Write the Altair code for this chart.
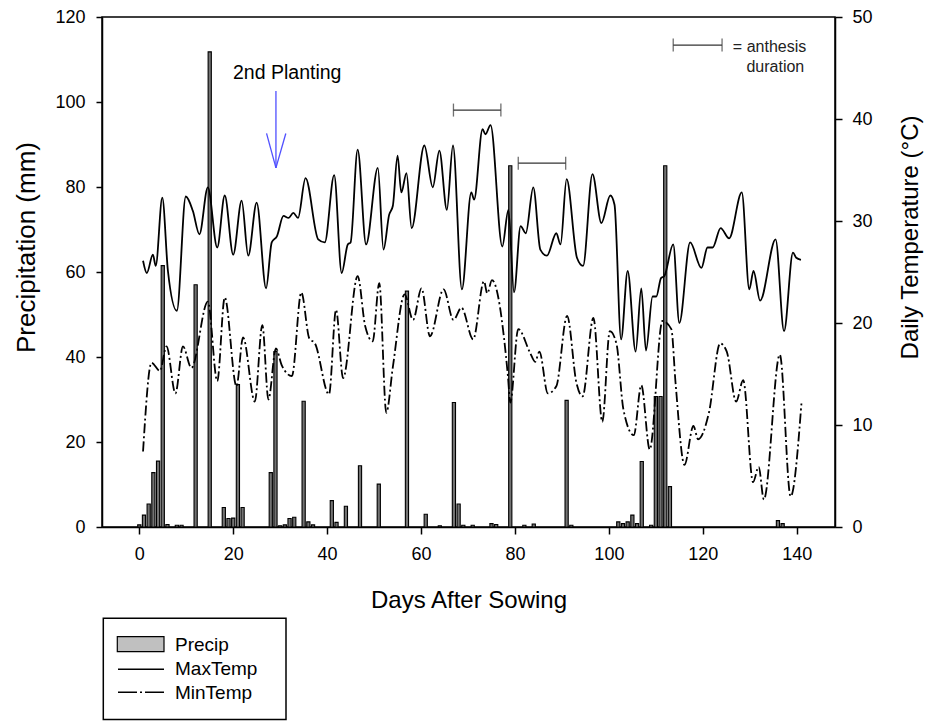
import altair as alt
import pandas as pd

# ---------------- data ----------------
precip_day = [0, 1, 2, 3, 4, 5, 6, 8, 9, 12,
              15, 18, 19, 20, 21, 22, 28, 29, 30, 31,
              32, 33, 35, 36, 37, 41, 42, 44, 47, 51,
              57, 61, 64, 67, 68, 69, 71, 75, 76, 79,
              82, 84, 91, 92, 102, 103, 104, 105, 106, 107,
              109, 110, 111, 112, 113, 136, 137]
precip_mm = [0.5, 2.8, 5.4, 12.8, 15.5, 61.5, 0.6, 0.4, 0.4, 57.0,
             111.8, 4.6, 2.0, 2.1, 33.5, 4.6, 12.8, 41.3, 0.3, 0.5,
             2.0, 2.3, 29.6, 1.2, 0.5, 6.2, 1.1, 4.9, 14.4, 10.1,
             55.5, 3.0, 0.3, 29.3, 5.4, 0.4, 0.4, 0.8, 0.6, 85.0,
             0.4, 0.7, 29.8, 0.4, 1.2, 0.8, 1.2, 2.8, 0.8, 15.4,
             0.4, 30.7, 30.7, 85.0, 9.5, 1.5, 0.8]

max_day = [0.8, 1.6, 2.9, 3.5, 4.9, 6.1, 8.0, 9.9, 11.4, 12.8,
           14.6, 16.6, 18.2, 20.0, 21.8, 23.2, 25.0, 27.0, 28.2, 29.3,
           30.7, 31.8, 32.8, 33.8, 35.4, 38.1, 39.5, 41.5, 43.1, 44.4,
           45.0, 46.5, 48.3, 50.8, 52.0, 53.2, 54.0, 55.0, 55.8, 56.9,
           58.0, 60.7, 62.5, 63.9, 65.5, 66.8, 68.7, 70.7, 71.3, 73.1,
           73.7, 74.8, 77.3, 78.6, 79.8, 81.2, 82.3, 83.9, 85.4, 86.8,
           88.8, 89.7, 91.0, 93.2, 94.5, 96.5, 98.4, 100.3, 101.2, 102.6,
           104.0, 105.7, 106.9, 107.9, 109.3, 110.1, 111.1, 111.8, 113.7, 115.0,
           117.3, 119.7, 121.0, 122.1, 123.8, 125.6, 128.3, 129.9, 130.8, 132.2,
           135.5, 137.3, 139.2, 139.9, 140.9]
max_temp = [26.1, 24.9, 26.7, 25.6, 32.3, 25.1, 21.2, 32.4, 31.0, 28.7,
            33.3, 27.4, 32.5, 26.7, 32.0, 26.6, 31.8, 23.4, 27.9, 28.5,
            30.5, 30.3, 30.8, 30.3, 34.2, 28.2, 27.9, 34.5, 24.9, 27.7,
            27.9, 37.0, 27.7, 35.2, 27.2, 30.6, 31.5, 36.4, 32.8, 34.7,
            29.3, 37.4, 33.3, 36.9, 31.1, 37.4, 23.3, 32.8, 32.1, 39.0,
            38.5, 39.4, 27.5, 31.1, 23.0, 29.5, 28.8, 33.3, 27.2, 26.6,
            28.8, 27.7, 34.1, 26.4, 25.6, 34.6, 29.8, 32.5, 31.6, 18.4,
            25.1, 17.2, 23.4, 17.3, 22.6, 22.6, 24.4, 24.6, 27.7, 20.0,
            27.9, 25.4, 27.4, 27.4, 29.3, 28.3, 32.8, 23.3, 25.1, 22.2,
            28.2, 19.2, 26.9, 26.4, 26.2]

min_day = [0.8, 2.6, 4.4, 5.8, 7.7, 9.3, 11.1, 14.6, 16.6, 18.2,
           20.7, 22.1, 24.6, 26.2, 27.5, 29.1, 30.3, 32.5, 34.5, 36.2,
           37.4, 40.4, 41.9, 43.4, 46.5, 48.1, 49.7, 51.1, 52.6, 54.0,
           56.5, 58.3, 60.1, 61.9, 64.8, 66.9, 68.6, 71.1, 73.4, 74.1,
           75.1, 78.5, 79.0, 80.7, 83.2, 84.3, 85.2, 87.0, 88.8, 91.1,
           93.1, 94.4, 96.7, 98.6, 100.2, 101.6, 103.1, 105.3, 106.9, 108.7,
           111.4, 113.3, 114.2, 116.1, 118.0, 119.0, 121.3, 123.7, 125.1, 127.1,
           128.6, 130.7, 131.9, 133.0, 136.4, 138.7, 141.0]
min_temp = [7.4, 16.1, 15.3, 17.7, 13.1, 17.7, 15.6, 22.1, 14.3, 22.5,
            13.8, 18.6, 12.3, 19.8, 12.5, 17.5, 15.9, 14.8, 23.0, 18.5,
            18.0, 13.0, 21.3, 14.6, 24.6, 19.7, 18.2, 23.9, 11.2, 15.7,
            22.8, 20.3, 23.4, 18.7, 23.3, 20.3, 21.5, 18.4, 24.1, 22.9,
            24.2, 14.8, 12.2, 19.4, 17.1, 16.2, 17.2, 13.1, 13.8, 20.7,
            14.1, 12.8, 20.5, 10.3, 19.2, 18.0, 11.5, 9.0, 13.9, 7.6,
            20.2, 19.4, 14.1, 6.1, 9.9, 8.6, 11.2, 18.0, 17.2, 12.3,
            14.4, 4.4, 5.9, 2.7, 16.9, 3.0, 12.1]

# anthesis duration bars (day from, day to, level in mm of the left axis)
anth_start = [66.9, 80.7, 113.7]
anth_end = [77.0, 90.8, 124.1]
anth_level = [98.1, 85.6, 113.4]

# "2nd Planting" arrow: segments (day, mm) -> (day2, mm2)
arrow_day = [29.1, 27.1, 31.2]
arrow_mm = [102.6, 92.6, 92.6]
arrow_day2 = [29.1, 29.1, 29.1]
arrow_mm2 = [84.5, 84.5, 84.5]

x_ticks = [0, 20, 40, 60, 80, 100, 120, 140]
left_ticks = [0, 20, 40, 60, 80, 100, 120]
right_ticks = [0, 10, 20, 30, 40, 50]
legend_labels = ["Precip", "MaxTemp", "MinTemp"]

FONT = "Liberation Sans"
W, H = 733, 510

# ---------------- frames ----------------
bars_df = pd.DataFrame({"day": precip_day, "mm": precip_mm})
max_df = pd.DataFrame({"day": max_day, "temp": max_temp})
min_df = pd.DataFrame({"day": min_day, "temp": min_temp})
anth_df = pd.DataFrame({"day": anth_start, "day2": anth_end, "mm": anth_level})
caps_df = pd.DataFrame({"day": anth_start + anth_end, "mm": anth_level + anth_level})
arrow_df = pd.DataFrame({"day": arrow_day, "mm": arrow_mm, "day2": arrow_day2, "mm2": arrow_mm2})
planting_df = pd.DataFrame({"day": [31.5], "mm": [105.4], "label": ["2nd Planting"]})
anth_text_df = pd.DataFrame({"day": [126.4], "mm": [112.9], "label": ["= anthesis"]})
anth_text2_df = pd.DataFrame({"day": [141.6], "mm": [108.3], "label": ["duration"]})

x_scale = alt.Scale(domain=[-7.94, 148.15], nice=False, zero=False, padding=0)
left_scale = alt.Scale(domain=[0, 120], nice=False, padding=0)
right_scale = alt.Scale(domain=[0, 50], nice=False, padding=0)

x_axis = alt.Axis(values=x_ticks, title="Days After Sowing", tickSize=7,
                  labelPadding=11, titleY=80, titleBaseline="alphabetic",
                  labelFlush=False)
left_axis = alt.Axis(values=left_ticks, title="Precipitation (mm)", orient="left",
                     tickSize=6, labelPadding=11, titleAngle=270, titleFontSize=26,
                     titleBaseline="alphabetic", titleX=-68, titleY=230)
right_axis = alt.Axis(values=right_ticks, title="Daily Temperature (°C)", orient="right",
                      tickSize=7, labelPadding=10, titleAngle=270,
                      titleBaseline="alphabetic", titleX=82, titleY=220)

X = alt.X("day:Q", scale=x_scale, axis=x_axis)
X2 = alt.X2("day2:Q")
YL = alt.Y("mm:Q", scale=left_scale, axis=left_axis)
YL2 = alt.Y2("mm2:Q")
YR = alt.Y("temp:Q", scale=right_scale, axis=right_axis)

bars = alt.Chart(bars_df).mark_bar(size=3.2, fill="#737373", stroke="black",
                                   strokeWidth=1.1).encode(x=X, y=YL)

arrow = alt.Chart(arrow_df).mark_rule(color="#4f4fff", strokeWidth=1.3).encode(
    x=X, x2=X2, y=YL, y2=YL2)

planting = alt.Chart(planting_df).mark_text(fontSize=19.5, align="center",
                                            baseline="alphabetic", color="black").encode(
    x=X, y=YL, text="label:N")

anth = alt.Chart(anth_df).mark_rule(color="#333333", strokeWidth=1.3).encode(
    x=X, x2=X2, y=YL)
caps = alt.Chart(caps_df).mark_tick(orient="vertical", size=13, thickness=1.3,
                                    color="#333333").encode(x=X, y=YL)
anth_text = alt.Chart(anth_text_df).mark_text(fontSize=16, align="left", baseline="middle",
                                              color="#222222").encode(x=X, y=YL, text="label:N")
anth_text2 = alt.Chart(anth_text2_df).mark_text(fontSize=16, align="right", baseline="middle",
                                                color="#222222").encode(x=X, y=YL, text="label:N")

one = pd.DataFrame({"k": [0]})
leg_box = alt.Chart(one).mark_rect(fillOpacity=0, stroke="black", strokeWidth=1.5).encode(
    x=alt.value(1.3), x2=alt.value(184), y=alt.value(601.3), y2=alt.value(702.5))
leg_precip = alt.Chart(one).mark_rect(fill="#c0c0c0", stroke="black", strokeWidth=1.2).encode(
    x=alt.value(15.3), x2=alt.value(62), y=alt.value(619.7), y2=alt.value(634.7))
leg_max = alt.Chart(one).mark_rule(color="black", strokeWidth=1.6).encode(
    x=alt.value(16), x2=alt.value(62), y=alt.value(652.3))
leg_min = alt.Chart(one).mark_rule(color="black", strokeWidth=1.6, strokeDash=[19, 3, 2, 3]).encode(
    x=alt.value(16), x2=alt.value(62), y=alt.value(675.3))
leg_texts = []
for lab, yy in zip(legend_labels, [627.5, 652.3, 675.5]):
    leg_texts.append(
        alt.Chart(pd.DataFrame({"label": [lab]})).mark_text(
            fontSize=19, align="left", baseline="middle", color="black").encode(
            x=alt.value(73), y=alt.value(yy), text="label:N"))

left_layer = alt.layer(bars, arrow, planting, anth, caps, anth_text, anth_text2,
                       leg_box, leg_precip, leg_max, leg_min, *leg_texts)

max_line = alt.Chart(max_df).mark_line(color="black", strokeWidth=1.8,
                                       interpolate="monotone").encode(x=X, y=YR)
min_line = alt.Chart(min_df).mark_line(color="black", strokeWidth=1.8, interpolate="monotone",
                                       strokeDash=[10, 3, 2, 3]).encode(x=X, y=YR)
right_layer = alt.layer(max_line, min_line)

chart = alt.layer(left_layer, right_layer).resolve_scale(y="independent").properties(
    width=W, height=H,
    padding={"left": 102, "top": 17, "right": 93, "bottom": 194},
    autosize=alt.AutoSizeParams(type="none"),
    background="white",
).configure(font=FONT).configure_view(
    stroke="black", strokeWidth=1.5
).configure_axis(
    grid=False, domainColor="black", domainWidth=1.5, tickColor="black", tickWidth=1.5,
    labelFont=FONT, labelFontSize=18, labelColor="black",
    titleFont=FONT, titleFontSize=24, titleFontWeight="normal", titleColor="black",
)

chart.save("out.html", embed_options={"renderer": "svg", "actions": False})
